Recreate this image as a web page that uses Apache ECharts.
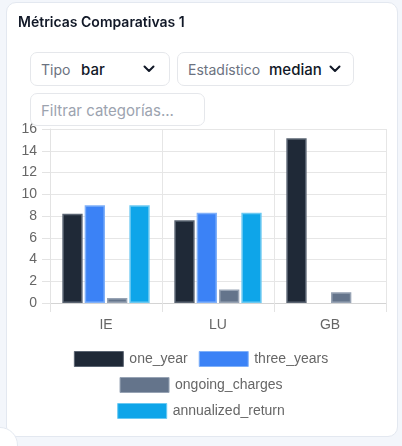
<!DOCTYPE html>
<html>
<head>
<meta charset="utf-8">
<script src="https://cdn.jsdelivr.net/npm/echarts@6/dist/echarts.min.js"></script>
<style>
  html, body { margin:0; padding:0; width:402px; height:446px; overflow:hidden; background:#f3f6fb; font-family: Inter, "Liberation Sans", Arial, sans-serif; }
  .card { position:absolute; left:6px; top:2px; width:392px; height:435px; background:#fff; border:1px solid #e3e8f0; border-radius:10px; box-sizing:border-box; }
  .title { position:absolute; left:18px; top:13px; font-size:14px; font-weight:600; color:#111827; z-index:2; }
  .box { position:absolute; border:1px solid #e5e7eb; border-radius:7px; background:#fff; box-sizing:border-box; z-index:2; }
  .lbl { position:absolute; font-size:14px; color:#6b7280; top:8px; }
  .val { position:absolute; font-size:15px; color:#111827; top:7px; font-weight:500; }
  .chev { position:absolute; top:12px; }
  .ph { position:absolute; left:10px; top:7px; font-size:15px; color:#9ca3af; }
  #chart { position:absolute; left:0; top:0; width:402px; height:446px; z-index:1; }
  .dot { position:absolute; left:-18px; top:427px; width:34px; height:34px; border-radius:50%; background:#fff; border:1px solid #e3e8f0; z-index:3; }
</style>
</head>
<body>
<div class="card"></div>
<div class="title">Métricas Comparativas 1</div>
<div class="box" style="left:30px;top:52px;width:140px;height:34px;">
  <span class="lbl" style="left:10px;">Tipo</span>
  <span class="val" style="left:50px;">bar</span>
  <svg class="chev" style="left:112px;" width="12" height="8" viewBox="0 0 12 8"><path d="M1.5 1.5 L6 6 L10.5 1.5" fill="none" stroke="#111827" stroke-width="2" stroke-linecap="round" stroke-linejoin="round"/></svg>
</div>
<div class="box" style="left:177px;top:52px;width:177px;height:34px;">
  <span class="lbl" style="left:10px;">Estadístico</span>
  <span class="val" style="left:91px;">median</span>
  <svg class="chev" style="left:151px;" width="12" height="8" viewBox="0 0 12 8"><path d="M1.5 1.5 L6 6 L10.5 1.5" fill="none" stroke="#111827" stroke-width="2" stroke-linecap="round" stroke-linejoin="round"/></svg>
</div>
<div class="box" style="left:30px;top:93px;width:175px;height:33px;">
  <span class="ph">Filtrar categorías...</span>
</div>
<div id="chart"></div>
<div class="dot"></div>
<script>
const categories = ["IE", "LU", "GB"];
const seriesNames = ["one_year", "three_years", "ongoing_charges", "annualized_return"];
const oneYear = [8.2, 7.6, 15.15];
const threeYears = [9.0, 8.3, null];
const ongoingCharges = [0.45, 1.25, 1.0];
const annualizedReturn = [9.0, 8.3, null];
const yTicks = [0, 2, 4, 6, 8, 10, 12, 14, 16];

const colors = ["#1f2937", "#3b82f6", "#64748b", "#0ea5e9"];
const borders = ["#5a6472", "#7fb0f9", "#97a3b4", "#6bc9f2"];
const values = [oneYear, threeYears, ongoingCharges, annualizedReturn];

const chart = echarts.init(document.getElementById('chart'), null, {renderer: 'canvas'});
const font = '"Liberation Sans", Arial, sans-serif';
const legendBase = {
  orient: 'horizontal', left: 'center', itemWidth: 49, itemHeight: 15, itemGap: 11,
  icon: 'rect',
  itemStyle: { borderWidth: 1 },
  textStyle: { color: '#666', fontSize: 14, fontFamily: font, padding: [0,0,0,1] }
};
chart.setOption({
  animation: false,
  backgroundColor: 'transparent',
  grid: { left: 50, top: 129, width: 336, height: 174, containLabel: false },
  legend: [
    Object.assign({}, legendBase, { top: 346, data: ["one_year", "three_years"] }),
    Object.assign({}, legendBase, { top: 372, data: ["ongoing_charges"] }),
    Object.assign({}, legendBase, { top: 398, data: ["annualized_return"] })
  ],
  xAxis: {
    type: 'category', data: categories, boundaryGap: true,
    axisLine: { show: true, lineStyle: { color: '#d4d4d4', width: 1 } },
    axisTick: { show: true, length: 9, lineStyle: { color: '#e3e3e3' } },
    splitLine: { show: true, lineStyle: { color: '#e6e6e6' } },
    axisLabel: { color: '#666', fontSize: 14, fontFamily: font, margin: 15 }
  },
  yAxis: {
    type: 'value', min: yTicks[0], max: yTicks[yTicks.length - 1], interval: 2,
    axisLine: { show: true, lineStyle: { color: '#e3e3e3' } },
    axisTick: { show: true, length: 8, lineStyle: { color: '#e3e3e3' } },
    splitLine: { show: true, lineStyle: { color: '#e6e6e6' } },
    axisLabel: { color: '#666', fontSize: 14, fontFamily: font, margin: 13 }
  },
  series: seriesNames.map((n, i) => ({
    name: n, type: 'bar', data: values[i].map(v => v === null ? '-' : v),
    barGap: '10%', barCategoryGap: '22%',
    itemStyle: { color: colors[i], borderColor: borders[i], borderWidth: 1.5 }
  }))
});
</script>
</body>
</html>
